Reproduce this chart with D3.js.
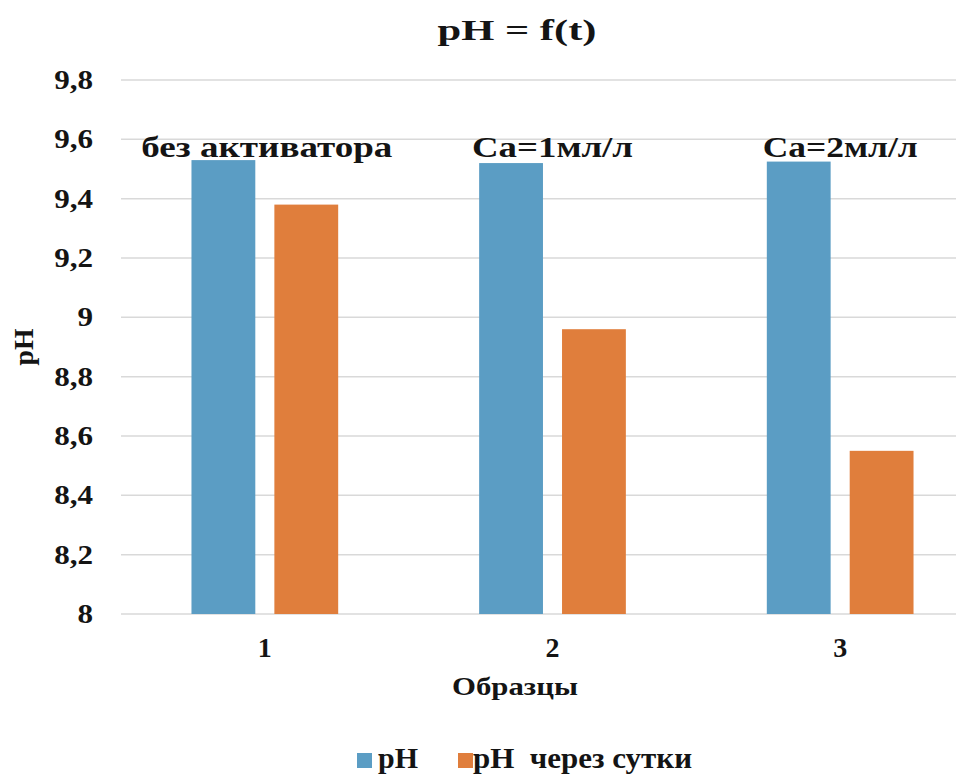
<!DOCTYPE html>
<html>
<head>
<meta charset="utf-8">
<script src="https://cdn.jsdelivr.net/npm/d3@7"></script>
<style>
  body { margin: 0; background: #fff; }
</style>
</head>
<body>
<div id="chart"></div>
<script>
// data
var samples = ["1", "2", "3"];
var seriesNames = ["pH", "pH  через сутки"];
var phStart = [9.53, 9.52, 9.525];
var phDay = [9.38, 8.96, 8.55];
var sampleNotes = ["без активатора", "Ca=1мл/л", "Ca=2мл/л"];
var yTicks = [8, 8.2, 8.4, 8.6, 8.8, 9, 9.2, 9.4, 9.6, 9.8];
var colors = ["#5B9DC4", "#E07E3C"];

const width = 956, height = 774;
const margin = { top: 80, right: -28, bottom: 160, left: 121 };
const FONT = "'Times New Roman', 'Liberation Serif', serif";
const INK = "#141414";

const svg = d3.select("#chart")
  .append("svg")
  .attr("width", width)
  .attr("height", height);

// every text gets the serif face set on itself
function label(sel) {
  return sel.attr("font-family", FONT)
    .attr("font-weight", "bold")
    .attr("fill", INK);
}

// x scales: one band per sample, inner band per series
var x = d3.scaleBand()
  .domain(samples)
  .range([margin.left, width - margin.right])
  .paddingInner(0.49)
  .paddingOuter(0.245);

var xSub = d3.scaleBand()
  .domain(d3.range(seriesNames.length))
  .range([0, x.bandwidth()])
  .paddingInner(0.23);

var y = d3.scaleLinear()
  .domain([8, 9.8])
  .range([height - margin.bottom, margin.top]);

// gridlines
svg.append("g")
  .selectAll("line")
  .data(yTicks)
  .enter().append("line")
  .attr("x1", margin.left)
  .attr("x2", width - margin.right)
  .attr("y1", d => y(d))
  .attr("y2", d => y(d))
  .attr("stroke", "#d9d9d9")
  .attr("stroke-width", 1.5);

// y tick labels (a bit wider than the plain face)
svg.append("g")
  .selectAll("text")
  .data(yTicks)
  .enter().append("text")
  .call(label)
  .attr("transform", d => "translate(93," + (y(d) + 9) + ") scale(1.11,1)")
  .attr("text-anchor", "end")
  .attr("font-size", 28)
  .text(d => String(+d.toFixed(1)).replace(".", ","));

// bars
var rows = samples.map((s, i) => ({ sample: s, values: [phStart[i], phDay[i]] }));

svg.append("g")
  .selectAll("g")
  .data(rows)
  .enter().append("g")
  .attr("transform", d => "translate(" + x(d.sample) + ",0)")
  .selectAll("rect")
  .data(d => d.values)
  .enter().append("rect")
  .attr("x", (d, i) => xSub(i))
  .attr("y", d => y(d))
  .attr("width", xSub.bandwidth())
  .attr("height", d => y(8) - y(d))
  .attr("fill", (d, i) => colors[i]);

// notes above the groups
var noteWidths = [251, 161, 155];
svg.append("g")
  .selectAll("text")
  .data(sampleNotes)
  .enter().append("text")
  .call(label)
  .attr("x", (d, i) => x(samples[i]) + x.bandwidth() / 2 + (i == 0 ? 2 : 0))
  .attr("y", y(9.53) - 3)
  .attr("text-anchor", "middle")
  .attr("font-size", 30)
  .attr("textLength", (d, i) => noteWidths[i])
  .attr("lengthAdjust", "spacingAndGlyphs")
  .text(d => d);

// x tick labels
svg.append("g")
  .selectAll("text")
  .data(samples)
  .enter().append("text")
  .call(label)
  .attr("x", d => x(d) + x.bandwidth() / 2)
  .attr("y", 657)
  .attr("text-anchor", "middle")
  .attr("font-size", 28)
  .text(d => d);

// title and axis titles
svg.append("text")
  .call(label)
  .attr("x", 517)
  .attr("y", 40)
  .attr("text-anchor", "middle")
  .attr("font-size", 30)
  .attr("textLength", 159)
  .attr("lengthAdjust", "spacingAndGlyphs")
  .text("pH = f(t)");

svg.append("text")
  .call(label)
  .attr("x", 515)
  .attr("y", 695)
  .attr("text-anchor", "middle")
  .attr("font-size", 26)
  .attr("textLength", 126)
  .attr("lengthAdjust", "spacingAndGlyphs")
  .text("Образцы");

svg.append("text")
  .call(label)
  .attr("transform", "translate(33,347) rotate(-90)")
  .attr("text-anchor", "middle")
  .attr("font-size", 27)
  .attr("textLength", 37)
  .attr("lengthAdjust", "spacingAndGlyphs")
  .text("pH");

// legend
var legendX = [357, 458];
var legendWidths = [40, 219];
var legend = svg.append("g")
  .selectAll("g")
  .data(seriesNames)
  .enter().append("g")
  .attr("transform", (d, i) => "translate(" + legendX[i] + ",753)");

legend.append("rect")
  .attr("width", 15)
  .attr("height", 15)
  .attr("fill", (d, i) => colors[i]);

legend.append("text")
  .call(label)
  .attr("x", (d, i) => i == 0 ? 21 : 15)
  .attr("y", 15)
  .attr("font-size", 30)
  .attr("textLength", (d, i) => legendWidths[i])
  .attr("lengthAdjust", "spacingAndGlyphs")
  .style("white-space", "pre")
  .text(d => d);
</script>
</body>
</html>
